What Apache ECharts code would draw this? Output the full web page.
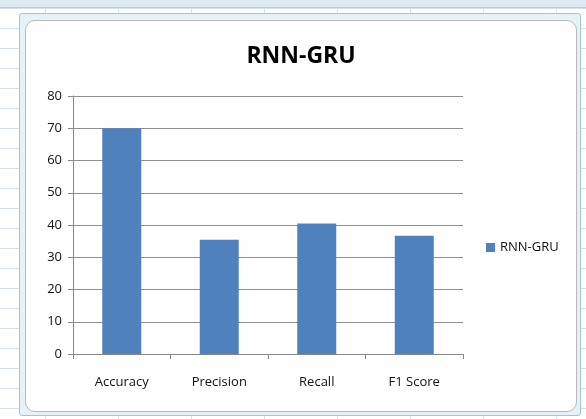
<!DOCTYPE html>
<html>
<head>
<meta charset="UTF-8"/>
<script src="https://cdn.jsdelivr.net/npm/echarts@6/dist/echarts.min.js"></script>
<style>
  html, body { margin: 0; padding: 0; }
  body {
    width: 586px; height: 419px; overflow: hidden; position: relative;
    background-color: #fff;
    background-image:
      linear-gradient(to right, #d6e3ec 1px, transparent 1px),
      linear-gradient(to bottom, #d6e3ec 1px, transparent 1px);
    background-size: 73px 20px;
    background-position: 45px 8px;
  }
  #sheetTop { position: absolute; left: 0; top: 0; width: 586px; height: 7px; background: #dfe9f2; border-bottom: 1px solid #b8cad8; }
  #frame {
    position: absolute; left: 19px; top: 13px; width: 560px; height: 401px;
    background: #e6f2f6; border: 1px solid #a8c4d4; border-radius: 3px;
  }
  #chart {
    position: absolute; left: 25px; top: 20px; width: 550px; height: 390px;
    background: #fff; border: 1px solid #b9b9b9; border-radius: 10px;
  }
</style>
</head>
<body>
<div id="sheetTop"></div>
<div id="frame"></div>
<div id="chart"></div>
<script>
    // values
    var categories = ['Accuracy', 'Precision', 'Recall', 'F1 Score'];
    var rnnGru = [70, 35.4, 40.5, 36.7];
    var seriesName = 'RNN-GRU';

    var chart = echarts.init(document.getElementById('chart'));
    chart.setOption({
        animation: false,
        title: {
            text: 'RNN-GRU',
            left: 'center',
            top: 19,
            textStyle: { fontFamily: 'Open Sans', fontSize: 23, fontWeight: 'bold', color: '#000' }
        },
        legend: {
            data: [seriesName],
            left: 455,
            top: 215,
            itemWidth: 9,
            itemHeight: 9,
            itemGap: 4,
            icon: 'rect',
            textStyle: { fontFamily: 'Open Sans', fontSize: 13, color: '#111' }
        },
        grid: { left: 47, right: 113, top: 75, bottom: 57 },
        xAxis: {
            type: 'category',
            data: categories,
            axisLine: { lineStyle: { color: '#888' } },
            axisTick: { show: true, length: 5, lineStyle: { color: '#888' } },
            axisLabel: { margin: 22, fontFamily: 'Open Sans', fontSize: 13, color: '#111' }
        },
        yAxis: {
            type: 'value',
            min: 0,
            max: 80,
            interval: 10,
            axisLine: { show: true, lineStyle: { color: '#888' } },
            axisTick: { show: true, length: 5, lineStyle: { color: '#888' } },
            axisLabel: { margin: 11, fontFamily: 'Open Sans', fontSize: 13, color: '#111' },
            splitLine: { lineStyle: { color: '#909090', width: 1.2 } }
        },
        series: [{
            name: seriesName,
            type: 'bar',
            data: rnnGru,
            barWidth: 39,
            itemStyle: { color: '#4f81bd' }
        }]
    });
</script>
</body>
</html>
